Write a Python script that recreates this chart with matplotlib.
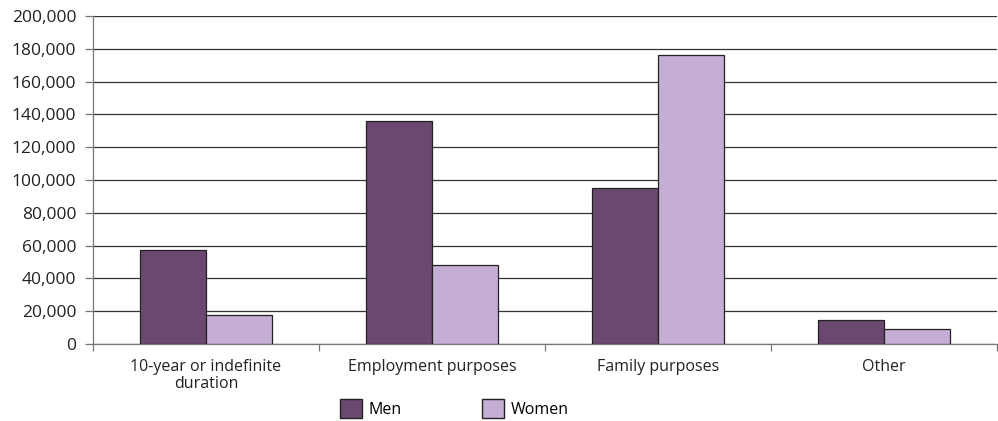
import numpy as np
import matplotlib.pyplot as plt
from matplotlib.ticker import FuncFormatter
from matplotlib.patches import Patch

categories = ["10-year or indefinite\nduration", "Employment purposes", "Family purposes", "Other"]
men = [57400, 135800, 95300, 14700]
women = [17900, 48400, 176500, 9200]
yticks = list(range(0, 200001, 20000))

plt.rcParams['font.family'] = ['Open Sans', 'DejaVu Sans']

fig = plt.figure(figsize=(9.98, 4.21), dpi=100)
ax = fig.add_axes([0.0932, 0.183, 0.9058, 0.779])

x = np.arange(len(categories))
w = 0.29
ax.bar(x - w / 2, men, w, color="#6B4870", edgecolor="#222222", linewidth=0.9, zorder=3)
ax.bar(x + w / 2, women, w, color="#C4AED3", edgecolor="#222222", linewidth=0.9, zorder=3)

ax.set_xlim(-0.5, len(categories) - 0.5)
ax.set_ylim(0, 200000)
ax.set_yticks(yticks)
ax.yaxis.set_major_formatter(FuncFormatter(lambda v, p: f"{int(v):,}"))
ax.grid(axis="y", color="#333333", linewidth=0.9, zorder=0)

ax.set_xticks(x)
ax.set_xticklabels(categories, fontsize=11.5, color="#222222", linespacing=1.05)
ax.tick_params(axis="x", length=0, pad=11)
ax.set_xticks(np.arange(-0.5, len(categories)), minor=True)
ax.tick_params(axis="x", which="minor", length=5, color="#777777", width=0.9)
ax.tick_params(axis="y", labelsize=12.5, labelcolor="#222222", length=6, color="#777777", width=0.9, pad=6)

for s in ["top", "right"]:
    ax.spines[s].set_visible(False)
ax.spines["left"].set_color("#777777")
ax.spines["bottom"].set_color("#777777")
ax.spines["left"].set_linewidth(0.9)
ax.spines["bottom"].set_linewidth(0.9)

handles = [Patch(facecolor="#6B4870", edgecolor="#222222", label="Men"),
           Patch(facecolor="#C4AED3", edgecolor="#222222", label="Women")]
fig.legend(handles=handles, loc="center", bbox_to_anchor=(0.455, 0.03), ncol=2,
           frameon=False, fontsize=11.5, handlelength=1.4, handleheight=1.4,
           columnspacing=5.0, handletextpad=0.4)

fig.savefig("out.png", dpi=100)
